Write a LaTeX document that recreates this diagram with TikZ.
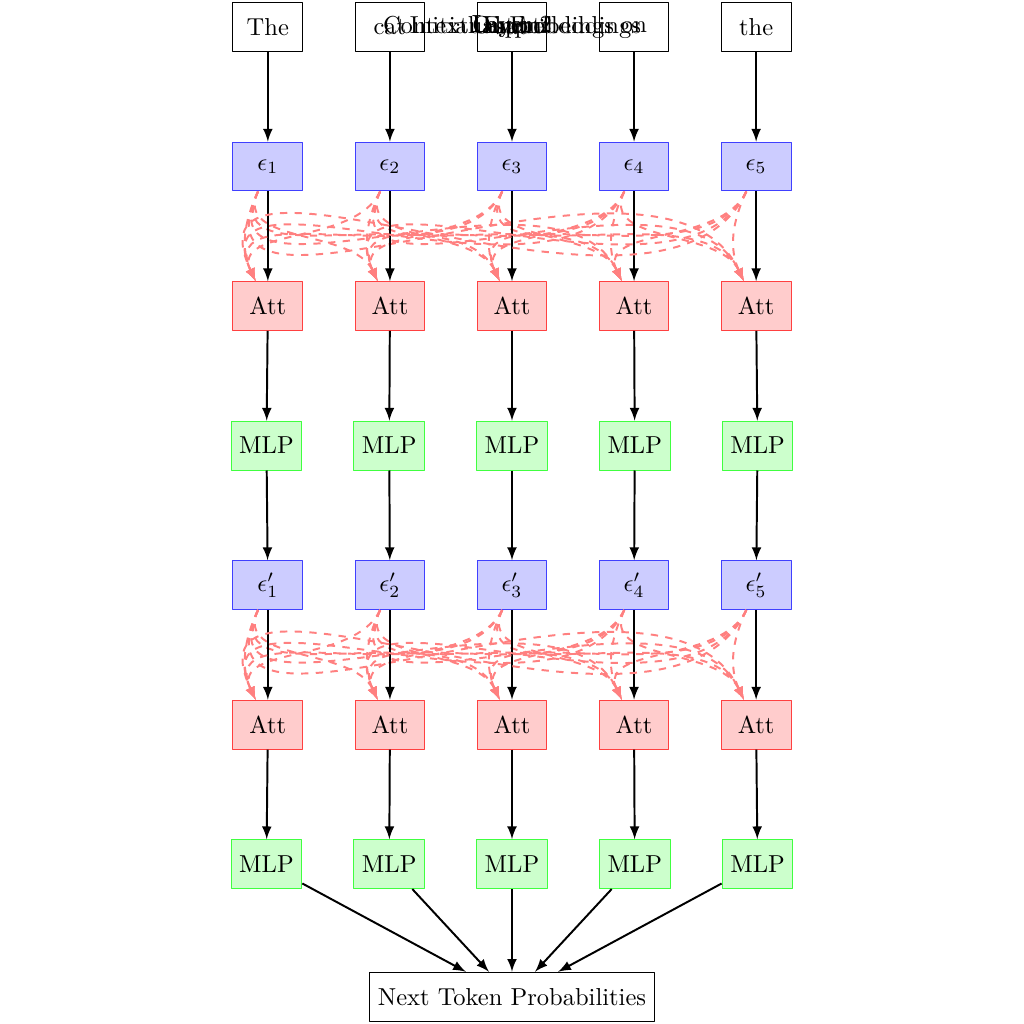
\documentclass[tikz,border=0pt]{standalone}
\usetikzlibrary{arrows}
\begin{document}
\begin{tikzpicture}[>=latex, line join=round,
	box/.style={draw, minimum width=1cm, minimum height=0.7cm},
	emb/.style={box, draw=blue!75, fill=blue!20},
	att/.style={box, draw=red!75, fill=red!20},
	mlp/.style={box, draw=green!75, fill=green!20},
	flow/.style={->, thick},
	attn/.style={->, thick, dashed, red!50}]
	\useasboundingbox (-7.34,0.388) rectangle (7.34,-14.29);
	\foreach \w [count=\i] in {The,cat,sat,on,the}{
		\node[box] (in\i) at ({(\i-3)*1.75},0) {\w};
		\node[emb] (e\i) at ({(\i-3)*1.75},-2) {$\epsilon_\i$};
		\node[att] (a\i) at ({(\i-3)*1.75},-4) {Att};
		\node[mlp] (m\i) at ({(\i-3)*1.76},-6) {MLP};
		\node[emb] (f\i) at ({(\i-3)*1.75},-8) {$\epsilon'_\i$};
		\node[att] (b\i) at ({(\i-3)*1.75},-10) {Att};
		\node[mlp] (n\i) at ({(\i-3)*1.76},-12) {MLP};
	}
	\node[box] (out) at (0,-13.9) {Next Token Probabilities};
	\foreach \t in {Input,Initial Embeddings,Layer 1,Contextual Embeddings,Layer 2,Output}{\node (lbl) at (in3.center) {\t};}
	\foreach \i in {1,...,5}{
		\foreach \j in {1,...,5}{
			\draw[attn] ([xshift=-4pt]e\i.south) to[out=-115,in=115] ([xshift=-5pt]a\j.north);
			\draw[attn] ([xshift=-4pt]f\i.south) to[out=-115,in=115] ([xshift=-5pt]b\j.north);
		}
		\draw[flow] (in\i) -- (e\i);
		\draw[flow] (e\i) -- (a\i);
		\draw[flow] (a\i) -- (m\i);
		\draw[flow] (m\i) -- (f\i);
		\draw[flow] (f\i) -- (b\i);
		\draw[flow] (b\i) -- (n\i);
		\draw[flow] (n\i) -- (out);
	}
\end{tikzpicture}
\end{document}
